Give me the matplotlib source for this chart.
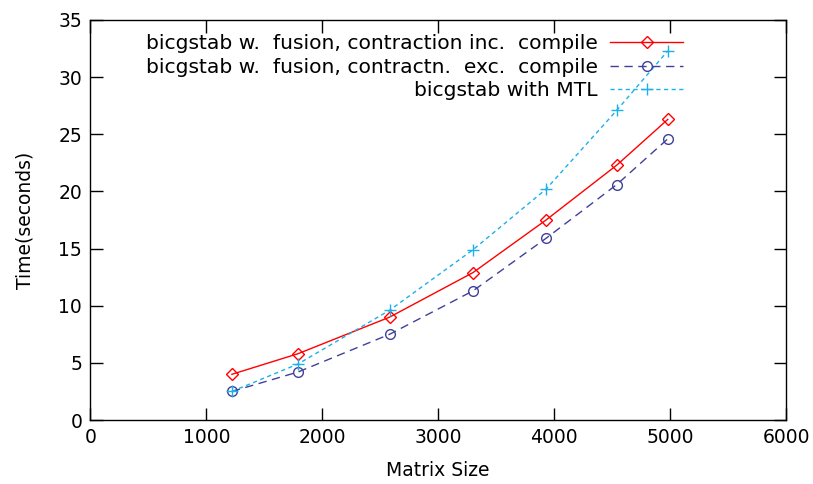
import matplotlib
matplotlib.use("Agg")
import matplotlib.pyplot as plt

# Matrix sizes and run times (seconds)
sizes = [1220, 1790, 2580, 3300, 3930, 4540, 4980]
fusion_inc_compile = [4.0, 5.8, 9.0, 12.9, 17.5, 22.3, 26.3]
fusion_exc_compile = [2.5, 4.2, 7.5, 11.3, 15.9, 20.6, 24.6]
mtl = [2.5, 4.9, 9.6, 14.9, 20.2, 27.1, 32.3]

labels = [
    "bicgstab w.  fusion, contraction inc.  compile",
    "bicgstab w.  fusion, contractn.  exc.  compile",
    "bicgstab with MTL",
]

plt.rcParams["font.family"] = ["DejaVu Sans"]
fs = 13.5
legend_fs = 14.6

fig = plt.figure(figsize=(8.13, 4.84), dpi=100)
ax = fig.add_axes([0.1113, 0.1322, 0.8555, 0.8265])

ax.plot(sizes, fusion_inc_compile, color="#ff0000", lw=1.0, ls="-",
        marker="D", ms=6, mfc="none", mec="#ff0000", mew=1.0, label=labels[0])
ax.plot(sizes, fusion_exc_compile, color="#40409a", lw=1.0, ls=(0, (6, 4)),
        marker="o", ms=7, mfc="none", mec="#40409a", mew=1.0, label=labels[1])
ax.plot(sizes, mtl, color="#1ab0ec", lw=1.0, ls=(0, (3, 2.5)),
        marker="+", ms=9, mec="#1ab0ec", mew=1.0, label=labels[2])

ax.set_xlim(0, 6000)
ax.set_ylim(0, 35)
ax.set_xticks(range(0, 6001, 1000))
ax.set_yticks(range(0, 36, 5))
ax.tick_params(direction="in", length=9, width=1, top=True, right=True,
               labelsize=fs, pad=6)
for s in ax.spines.values():
    s.set_linewidth(1.0)

ax.set_xlabel("Matrix Size", fontsize=fs, labelpad=10)
ax.set_ylabel("Time(seconds)", fontsize=fs, labelpad=17)

ax.legend(loc="upper right", bbox_to_anchor=(683 / 813, 1 - 34 / 484),
          bbox_transform=fig.transFigure, frameon=False, markerfirst=False,
          fontsize=legend_fs, handlelength=3.6, handletextpad=0.6,
          labelspacing=0.23, borderaxespad=0, borderpad=0)

fig.savefig("out.png", dpi=100)
